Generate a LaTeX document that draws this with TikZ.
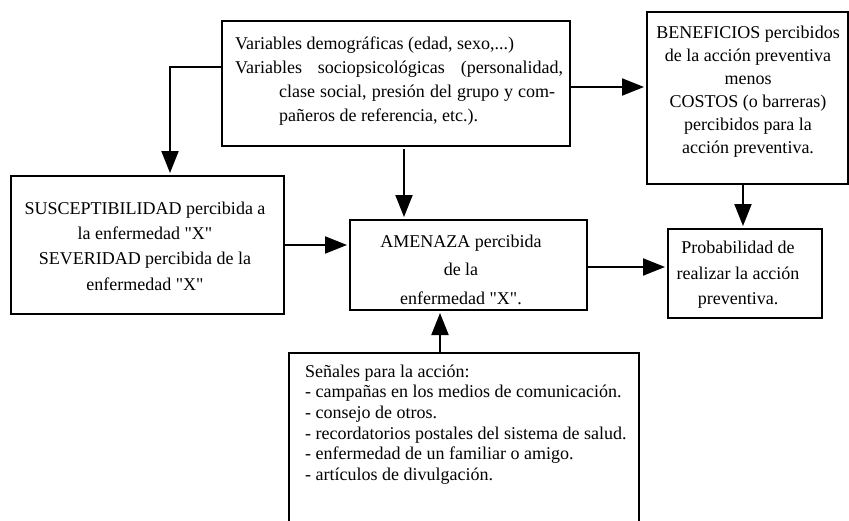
\documentclass[tikz,border=0pt]{standalone}
\usepackage{fontspec}
\setmainfont{Liberation Serif}[Ligatures=TeXOff]
\usetikzlibrary{arrows.meta}
\begin{document}
\begin{tikzpicture}[x=1pt,y=-1pt,
  box/.style={draw, line width=2pt, inner sep=0pt, anchor=north west},
  txt/.style={inner sep=0pt},
  arr/.style={line width=2pt, -{Triangle[length=22pt,width=17pt]}, shorten >=2pt}]
\useasboundingbox (0,0) rectangle (849,520);
\clip (0,0) rectangle (849,520);
% boxes
\node[box, minimum width=348pt, minimum height=125pt] (vars) at (221,20) {};
\node[box, minimum width=201pt, minimum height=172pt] (ben) at (646,11) {};
\node[box, minimum width=273pt, minimum height=138pt] (susc) at (10,175) {};
\node[box, minimum width=237pt, minimum height=90pt] (amen) at (349,219) {};
\node[box, minimum width=154pt, minimum height=89pt] (prob) at (667,228) {};
\node[box, minimum width=350pt, minimum height=200pt] (sen) at (288,352) {};
% texts
\node[txt, align=left, anchor=west, font=\fontsize{18}{23.8}\selectfont] (varsT) at (235,81)
 {Variables demográficas (edad, sexo,...)\\
  \makebox[328pt][s]{Variables sociopsicológicas (personalidad,}\\
  \hspace*{44pt}\makebox[276pt][s]{clase social, presión del grupo y com-}\\
  \hspace*{44pt}pañeros de referencia, etc.).};
\node[txt, align=center, font=\fontsize{18}{23}\selectfont] (benT) at (748,92)
 {BENEFICIOS percibidos\\de la acción preventiva\\menos\\COSTOS (o barreras)\\percibidos para la\\acción preventiva.};
\node[txt, align=center, font=\fontsize{18}{25.3}\selectfont] (suscT) at (145,246)
 {SUSCEPTIBILIDAD percibida a\\la enfermedad "X"\\SEVERIDAD percibida de la\\enfermedad "X"};
\node[txt, align=center, font=\fontsize{18}{28.5}\selectfont] (amenT) at (461,269.5)
 {AMENAZA percibida\\de la\\enfermedad "X".};
\node[txt, align=center, font=\fontsize{18}{25.5}\selectfont] (probT) at (738,275)
 {Probabilidad de\\realizar la acción\\preventiva.};
\node[txt, align=left, anchor=west, font=\fontsize{18}{20.7}\selectfont] (senT) at (305,424.5)
 {Señales para la acción:\\- campañas en los medios de comunicación.\\- consejo de otros.\\- recordatorios postales del sistema de salud.\\- enfermedad de un familiar o amigo.\\- artículos de divulgación.};
% connector positions
\coordinate (xA) at (170,0);
\coordinate (yA) at (0,67);
\coordinate (xB) at (404,0);
\coordinate (yC) at (0,87);
\coordinate (xD) at (743,0);
\coordinate (yE) at (0,245);
\coordinate (yF) at (0,267);
\coordinate (xG) at (440,0);
% connectors
\draw[arr] (vars.west |- yA) -| (susc.north -| xA);
\draw[arr, shorten <=2pt] (vars.south -| xB) -- (amen.north -| xB);
\draw[arr] (vars.east |- yC) -- (ben.west |- yC);
\draw[arr] (ben.south -| xD) -- (prob.north -| xD);
\draw[arr] (susc.east |- yE) -- (amen.west |- yE);
\draw[arr] (amen.east |- yF) -- (prob.west |- yF);
\draw[arr] (sen.north -| xG) -- (amen.south -| xG);
\end{tikzpicture}
\end{document}
